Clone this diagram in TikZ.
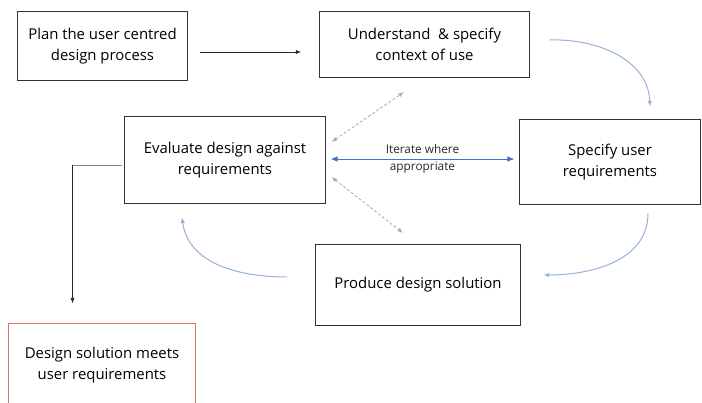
\documentclass[tikz,border=0pt]{standalone}
\usepackage{fontspec}
\setmainfont{Open Sans}
\usepackage{xcolor}
\usepackage{tikz}
\usetikzlibrary{arrows.meta,calc}
\definecolor{arcblue}{RGB}{150,175,215}
\definecolor{iterblue}{RGB}{68,114,196}
\definecolor{failred}{RGB}{226,110,110}
\begin{document}
\begin{tikzpicture}[x=0.025cm, y=0.025cm, every node/.style={font=\fontsize{10.6}{15}\selectfont}, box/.style={draw=black!80, line width=0.7pt, align=center, inner sep=0pt, fill=white}, cycle/.style={-{Latex[length=4pt,width=3.2pt]}, arcblue, line width=0.7pt}, iter/.style={{Latex[length=5pt,width=4pt]}-{Latex[length=5pt,width=4pt]}, iterblue, line width=0.6pt}, maybe/.style={{Latex[length=4pt,width=3pt]}-{Latex[length=4pt,width=3pt]}, arcblue, dashed, dash pattern=on 2pt off 1.5pt, line width=0.6pt}, flow/.style={-{Latex[length=4pt,width=3pt]}, black!85, line width=0.6pt}]
\useasboundingbox (0,0) rectangle (702,402);
\node[box, minimum width=4.25cm, minimum height=1.7cm] (plan) at (102.5,356) {Plan the user centred\\design process};
\node[box, minimum width=5.23cm, minimum height=1.63cm] (context) at (424.5,357.5) {Understand \ \& specify\\context of use};
\node[box, minimum width=5.0cm, minimum height=2.15cm] (evaluate) at (225,242) {Evaluate design against\\requirements};
\node[box, minimum width=4.5cm, minimum height=2.1cm] (userreq) at (610,240) {Specify user\\requirements};
\node[box, minimum width=5.1cm, minimum height=2.0cm] (produce) at (418,117) {Produce design solution};
\node[box, draw=failred, minimum width=4.65cm, minimum height=2.05cm] (meets) at (102,37) {Design solution meets\\user requirements};
% forward flow and the design cycle
\draw[flow] ($(plan.east)+(12,-6)$) -- ($(context.west)+(-18,-7.5)$);
\draw[cycle] ($(context.east)+(20,4.5)$) to[out=2,in=92] ($(userreq.north)+(40,13)$);
\draw[cycle] ($(userreq.south)+(38,-9)$) to[out=-90,in=0] ($(produce.east)+(23,10)$);
\draw[cycle] ($(produce.west)+(-28,8)$) to[out=180,in=-82] ($(evaluate.south)+(-43,-14)$);
% iteration links
\draw[iter] ($(evaluate.east)+(5,1)$) -- node[align=center, text=black!85, font=\fontsize{8.4}{11.5}\selectfont] {Iterate where\\appropriate} ($(userreq.west)+(-5,3)$);
\foreach \dy/\ex/\ey in {18/404/310, -17/403/169} {\draw[maybe] ($(evaluate.east)+(6,\dy)$) -- (\ex,\ey);}
% exit when requirements are met
\coordinate (turn) at (72.5,237);
\draw[arcblue!80!black, line width=0.6pt] ($(evaluate.west)+(-2,-5)$) -- (turn);
\draw[flow] (turn) -- ($(meets.north)+(-29.5,20)$);
\end{tikzpicture}
\end{document}
